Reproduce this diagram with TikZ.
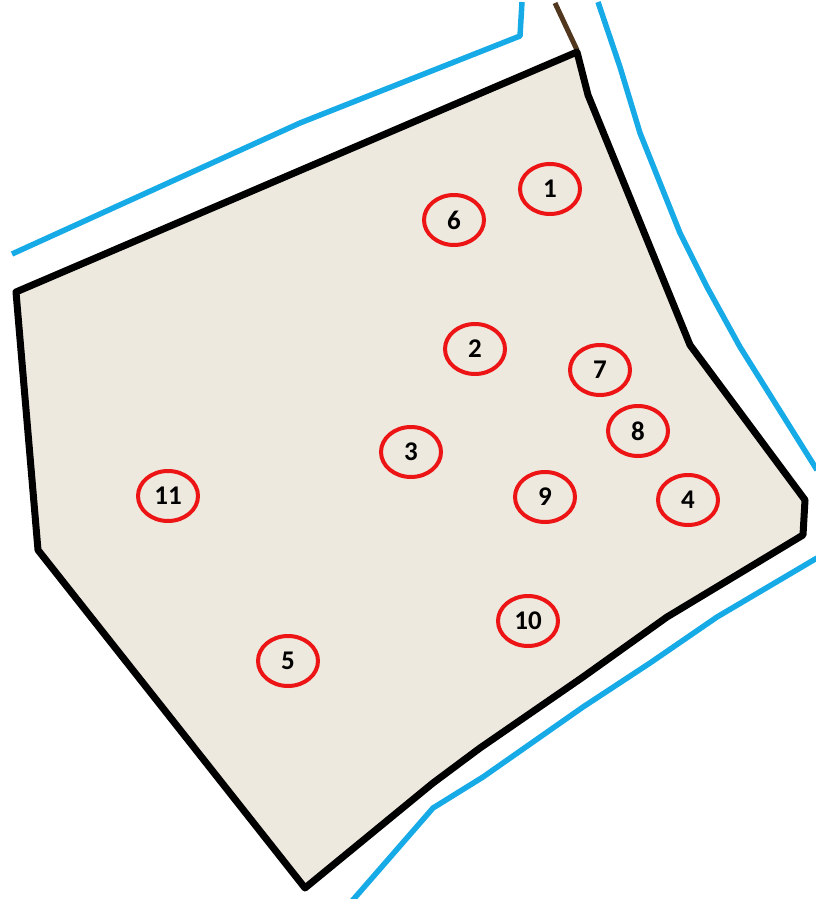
\documentclass[tikz,border=0pt]{standalone}
\usepackage{fontspec}
\setmainfont{Carlito}
\usetikzlibrary{shapes.geometric}
\definecolor{landfill}{RGB}{238,233,223}
\definecolor{bound}{RGB}{22,170,230}
\definecolor{markred}{RGB}{236,20,20}
\definecolor{darkbrown}{RGB}{80,55,30}
\begin{document}
\begin{tikzpicture}[x=1pt,y=-1pt,
  lot/.style={ellipse, draw=markred, line width=4pt, minimum width=60pt, minimum height=50pt, inner sep=0pt, font=\bfseries\fontsize{27}{27}\selectfont},
  parcel/.style={draw=black, line width=7pt, line join=round, fill=landfill},
  bline/.style={draw=bound, line width=5.5pt, line join=round}]
\useasboundingbox (0,0) rectangle (815,899);
% blue boundary lines
\draw[bline] (12,254) -- (300,123) -- (520,36) -- (522,2);
\draw[bline] (598,2) -- (620,67) -- (640,133) -- (680,233) -- (707,287) -- (740,347) -- (817,470);
\draw[bline] (817,558) -- (717,617) -- (650,663) -- (583,707) -- (483,777) -- (433,808) -- (352,901);
% short dark segment at top
\draw[darkbrown, line width=5pt] (555,3) -- (577,50);
% parcel
\draw[parcel] (16,292) -- (577,52) -- (588,95) -- (690,345) -- (805,500) -- (803,535) -- (750,567) -- (667,617) -- (583,677) -- (480,748) -- (433,783) -- (305,888) -- (38,550) -- cycle;
% numbered markers
\node[lot] (n1) at (550,189) {1};
\node[lot] (n6) at (454,220) {6};
\node[lot] (n2) at (475,349) {2};
\node[lot] (n7) at (600,370) {7};
\node[lot] (n8) at (638,431) {8};
\node[lot] (n3) at (411,452) {3};
\node[lot] (n9) at (545,497) {9};
\node[lot] (n4) at (688,500) {4};
\node[lot] (n11) at (168,496) {11};
\node[lot] (n10) at (528,621) {10};
\node[lot] (n5) at (288,661) {5};
\end{tikzpicture}
\end{document}
